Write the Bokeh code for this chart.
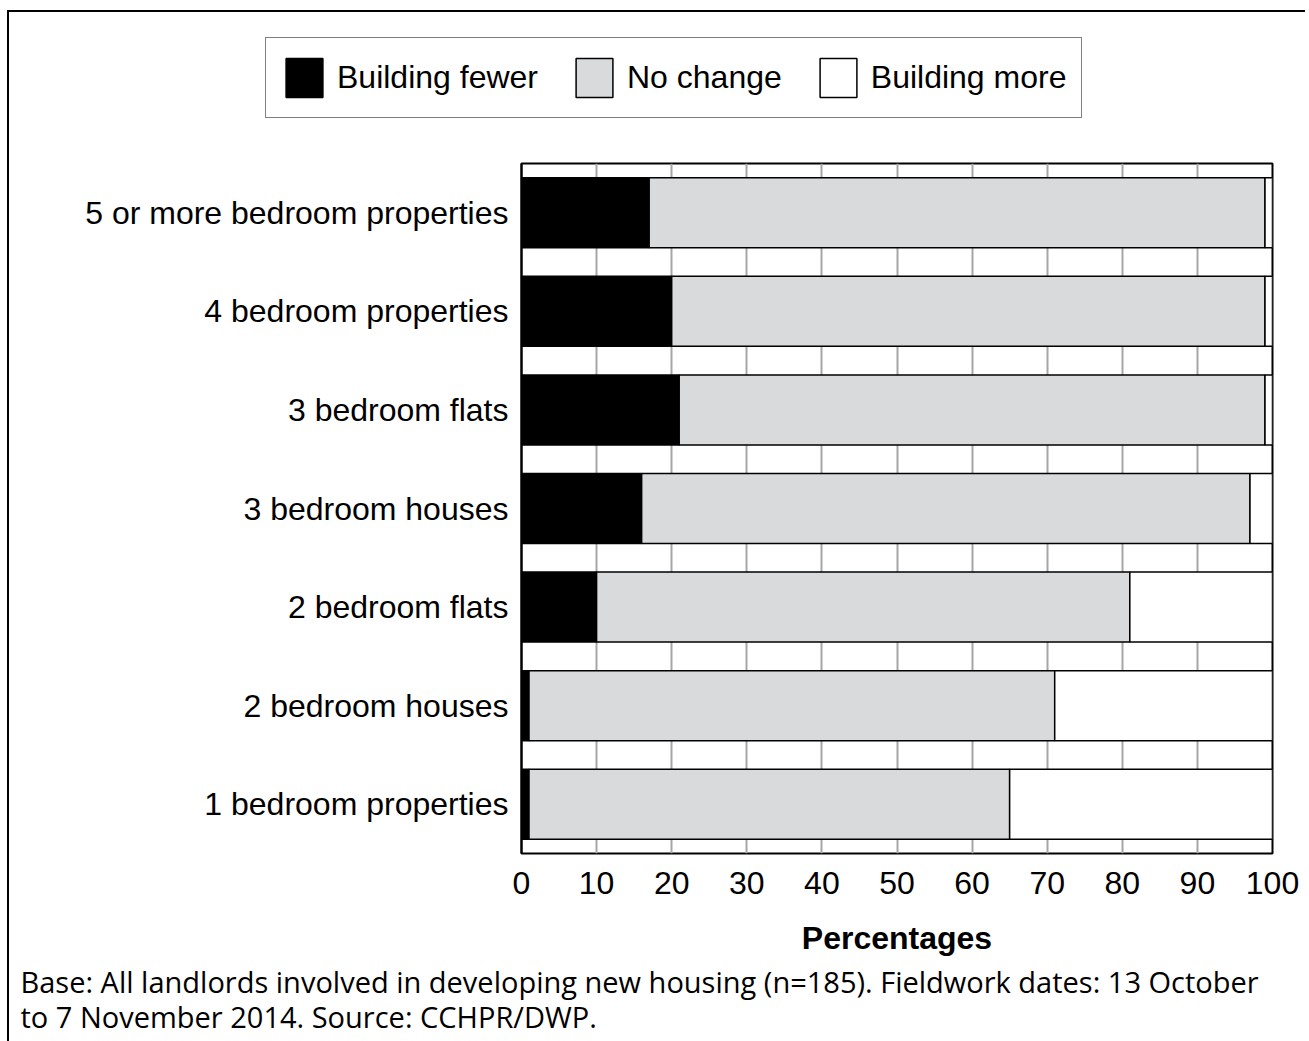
from bokeh.plotting import figure
from bokeh.models import ColumnDataSource, FactorRange, FixedTicker, Range1d, Title
from bokeh.embed import file_html
from bokeh.resources import INLINE

categories = ["5 or more bedroom properties", "4 bedroom properties", "3 bedroom flats",
              "3 bedroom houses", "2 bedroom flats", "2 bedroom houses", "1 bedroom properties"]
building_fewer = [17, 20, 21, 16, 10, 1, 1]
no_change = [82, 79, 78, 81, 71, 70, 64]
building_more = [1, 1, 1, 3, 19, 29, 35]
series = ["Building fewer", "No change", "Building more"]
x_ticks = [0, 10, 20, 30, 40, 50, 60, 70, 80, 90, 100]
note_lines = ["Base: All landlords involved in developing new housing (n=185). Fieldwork dates: 13 October",
              "to 7 November 2014. Source: CCHPR/DWP."]

colors = ["#000000", "#d9dadc", "#ffffff"]
FONT = "Liberation Sans"

source = ColumnDataSource(dict(cat=categories, fewer=building_fewer,
                               nochange=no_change, more=building_more))

# --- legend strip (separate root so the legend is not clipped by the chart frame) ---
lf = figure(width=1298, height=149, output_backend="svg", toolbar_location=None,
            x_range=Range1d(0, 100), y_range=FactorRange(*reversed(categories)),
            x_axis_type=None, y_axis_type=None,
            min_border_left=0, min_border_right=0, min_border_top=0, min_border_bottom=0)
lf.outline_line_color = None
lf.xgrid.grid_line_color = None
lf.ygrid.grid_line_color = None
legend_renderers = lf.hbar_stack(["fewer", "nochange", "more"], y="cat", height=0.71, source=source,
                                 fill_color=colors, line_color="black", line_width=1.5,
                                 legend_label=series)
for r in legend_renderers:
    r.visible = False
lf.styles = {"border-left": "2px solid black", "border-top": "2px solid black",
             "margin-left": "7px", "margin-top": "10px"}
lg = lf.legend[0]
lg.orientation = "horizontal"
lg.location = (256, 43)
lg.label_text_font = FONT
lg.label_text_font_size = "32px"
lg.label_text_color = "black"
lg.glyph_width = 46
lg.glyph_height = 49
lg.label_height = 49
lg.label_standoff = 10
lg.spacing = 33
lg.padding = 15
lg.margin = 0
lg.border_line_color = "black"
lg.border_line_width = 1.5
lg.background_fill_alpha = 1
lg.inactive_fill_alpha = 0

# --- main chart ---
p = figure(width=1298, height=882, output_backend="svg", toolbar_location=None,
           x_range=Range1d(0, 100), y_range=FactorRange(*reversed(categories)),
           min_border_left=512, min_border_right=35, min_border_top=4, min_border_bottom=188)
p.y_range.range_padding = 0
p.styles = {"border-left": "2px solid black", "margin-left": "7px"}

p.hbar_stack(["fewer", "nochange", "more"], y="cat", height=0.71, source=source,
             fill_color=colors, line_color="black", line_width=1.5)

p.outline_line_color = "black"
p.outline_line_width = 2
p.background_fill_color = "white"
p.border_fill_color = "white"

p.xgrid.ticker = FixedTicker(ticks=x_ticks)
p.xgrid.grid_line_color = "#a6a6a6"
p.xgrid.grid_line_width = 2
p.ygrid.grid_line_color = None

p.xaxis.ticker = FixedTicker(ticks=x_ticks)
p.xaxis.axis_line_color = None
p.xaxis.major_tick_line_color = None
p.xaxis.minor_tick_line_color = None
p.xaxis.major_label_text_font = FONT
p.xaxis.major_label_text_font_size = "32px"
p.xaxis.major_label_text_color = "black"
p.xaxis.major_label_standoff = 12
p.xaxis.axis_label = "Percentages"
p.xaxis.axis_label_text_font = FONT
p.xaxis.axis_label_text_font_size = "32px"
p.xaxis.axis_label_text_font_style = "bold"
p.xaxis.axis_label_text_color = "black"
p.xaxis.axis_label_standoff = 23

p.yaxis.axis_line_color = "black"
p.yaxis.axis_line_width = 2
p.yaxis.major_tick_line_color = None
p.yaxis.minor_tick_line_color = None
p.yaxis.major_label_text_font = FONT
p.yaxis.major_label_text_font_size = "32px"
p.yaxis.major_label_text_color = "black"
p.yaxis.major_label_standoff = 7

p.add_layout(Title(text="\n".join(note_lines), align="left", offset=-501, text_font="Open Sans",
                   text_font_size="29px", text_font_style="normal", text_color="black",
                   text_line_height=0.9, standoff=4), "below")

open("out.html", "w").write(file_html([lf, p], INLINE))
